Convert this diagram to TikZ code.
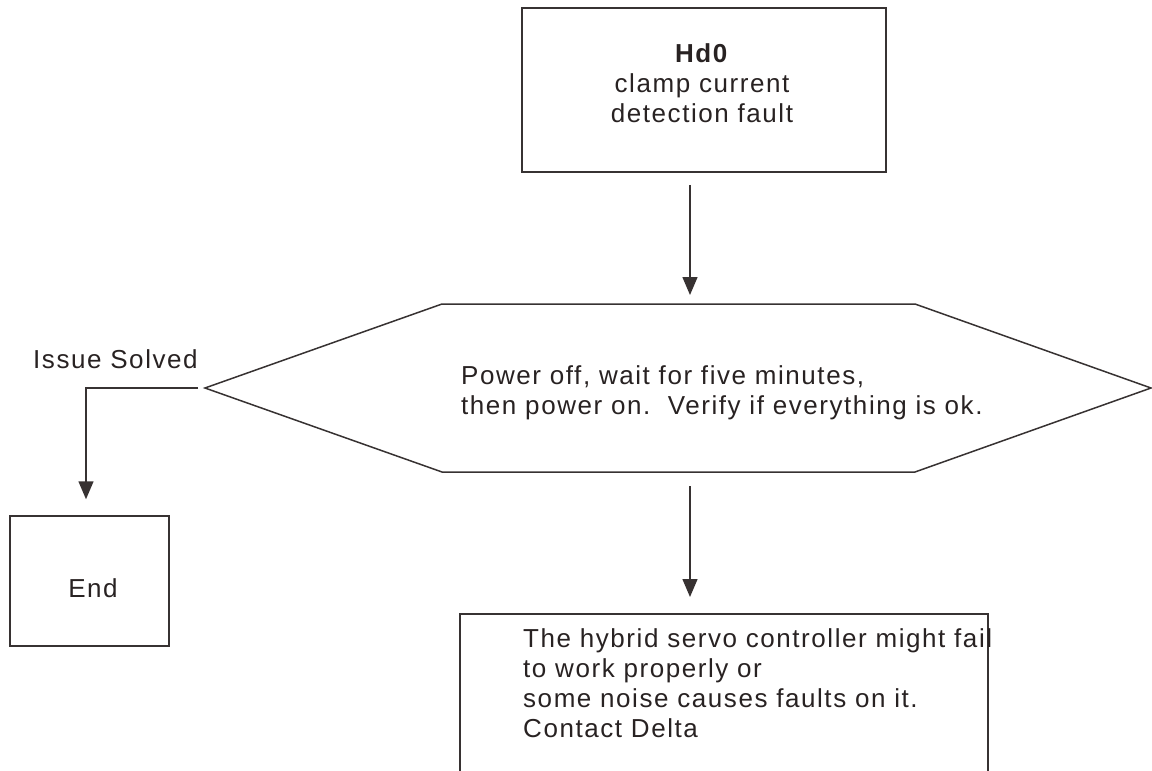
\documentclass[tikz,border=0pt]{standalone}
\usepackage{fontspec}
\setmainfont{Liberation Sans}[LetterSpace=6]
\usetikzlibrary{arrows.meta}
\definecolor{ink}{RGB}{40,34,34}
\definecolor{lnc}{RGB}{55,50,50}
\begin{document}
\begin{tikzpicture}[x=1pt,y=-1pt,
  font=\fontsize{26}{30}\selectfont,
  box/.style={draw=lnc, line width=1.5pt, inner sep=0pt},
  txt/.style={text=ink, inner sep=0pt, align=left},
  arr/.style={draw=lnc, line width=1.5pt, -{Triangle[width=15pt,length=18pt]}}]
\useasboundingbox (0,0) rectangle (1152,771);
\clip (0,0) rectangle (1152,771);
% top box
\node[box, minimum width=364pt, minimum height=164pt] (hd) at (704,90) {};
\node[txt, align=center, anchor=base] (hdt) at (702,122) {\textbf{Hd0}\\clamp current\\detection fault};
% hexagon
\coordinate (hL) at (205,388);
\coordinate (hTL) at (442,304);
\coordinate (hTR) at (915,304);
\coordinate (hR) at (1151,388);
\coordinate (hBR) at (915,472);
\coordinate (hBL) at (442,472);
\coordinate (hTop) at (690,304);
\coordinate (hBot) at (690,472);
\draw[lnc, line width=1.5pt, line join=miter] (hL) -- (hTL) -- (hTR) -- (hR) -- (hBR) -- (hBL) -- cycle;
\node[txt, anchor=base west] (hext) at (461,414) {Power off, wait for five minutes,\\then power on.\ \ Verify if everything is ok.};
% end box
\node[box, minimum width=159pt, minimum height=130pt] (end) at (89.5,581) {};
\node[txt, anchor=base] (endt) at (93,597) {End};
% bottom box
\node[box, minimum width=528pt, minimum height=200pt, anchor=north west] (cause) at (459,613) {};
\node[txt, anchor=base west] (causet) at (523,737) {The hybrid servo controller might fail\\to work properly or\\some noise causes faults on it.\\Contact Delta};
% label
\node[txt, anchor=base west] (solved) at (33,368) {Issue Solved};
% connectors
\draw[arr] ([yshift=-12pt]hd.south -| hTop) -- ([yshift=9pt]hTop);
\draw[arr] ([yshift=-14pt]hBot) -- ([yshift=16pt]cause.north -| hBot);
\draw[arr] ([xshift=-7pt]hL) -| ([xshift=-3.5pt,yshift=16pt]end.north);
\end{tikzpicture}
\end{document}
